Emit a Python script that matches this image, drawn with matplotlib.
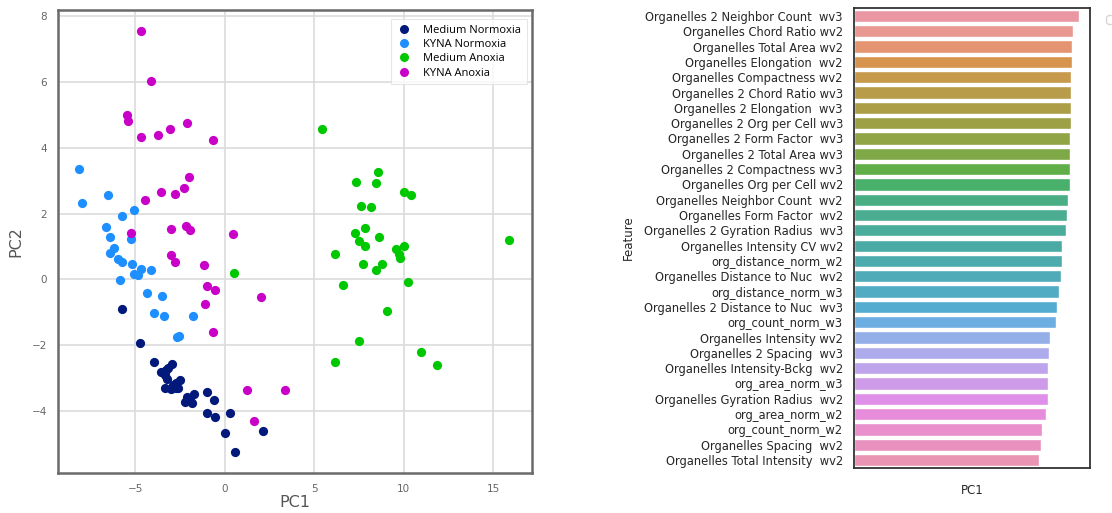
import numpy as np
import matplotlib
matplotlib.use("Agg")
import matplotlib.pyplot as plt
from matplotlib.lines import Line2D
import seaborn as sns

# ---- PCA scores (PC1, PC2) per condition ----
medium_normoxia_pc1 = [-5.74, -4.72, -3.92, -2.92, -3.14, -3.56, -3.27, -3.23, -2.49, -2.71,
                       -3.31, -3.00, -2.71, -2.11, -1.69, -2.19, -1.93, -0.99, -0.59, -0.96,
                       -0.51, 0.32, 0.05, 2.13, 0.59, -3.30, -2.90, -2.60, -1.80]
medium_normoxia_pc2 = [-0.89, -1.94, -2.51, -2.57, -2.71, -2.81, -2.76, -3.04, -3.06, -3.14,
                       -3.31, -3.34, -3.29, -3.59, -3.50, -3.74, -3.67, -3.43, -3.67, -4.05,
                       -4.19, -4.05, -4.68, -4.60, -5.26, -2.90, -3.20, -3.30, -3.75]

kyna_normoxia_pc1 = [-8.13, -7.94, -6.53, -5.04, -5.73, -6.64, -6.40, -5.22, -6.16, -6.38,
                     -5.93, -5.71, -5.18, -4.66, -4.12, -5.07, -4.85, -5.85, -4.31, -3.49,
                     -3.96, -3.40, -1.76, -2.67, -2.52]
kyna_normoxia_pc2 = [3.37, 2.31, 2.56, 2.11, 1.92, 1.60, 1.28, 1.22, 0.94, 0.79,
                     0.61, 0.53, 0.46, 0.32, 0.27, 0.16, 0.12, -0.02, -0.42, -0.51,
                     -1.03, -1.12, -1.12, -1.76, -1.73]

medium_anoxia_pc1 = [5.46, 8.56, 7.36, 8.48, 10.03, 10.40, 7.64, 8.18, 7.85, 7.29,
                     8.61, 7.50, 7.85, 10.04, 9.60, 9.73, 9.80, 6.16, 7.72, 8.78,
                     8.48, 6.64, 10.23, 15.91, 9.08, 7.53, 6.17, 10.98, 11.85, 0.55]
medium_anoxia_pc2 = [4.57, 3.25, 2.96, 2.92, 2.67, 2.55, 2.23, 2.20, 1.57, 1.40,
                     1.28, 1.17, 1.01, 1.02, 0.92, 0.77, 0.66, 0.78, 0.47, 0.47,
                     0.29, -0.17, -0.08, 1.19, -0.96, -1.87, -2.50, -2.22, -2.61, 0.20]

kyna_anoxia_pc1 = [-4.66, -4.09, -5.46, -5.39, -4.66, -3.72, -3.06, -2.11, -0.64, -2.00,
                   -2.26, -3.55, -2.78, -4.44, -5.22, -3.00, -2.17, -1.93, 0.49, -2.97,
                   -2.78, -1.13, -0.96, -0.51, -1.11, -0.64, 2.04, 1.24, 3.38, 1.66]
kyna_anoxia_pc2 = [7.54, 6.02, 4.99, 4.80, 4.32, 4.38, 4.57, 4.76, 4.24, 3.12,
                   2.78, 2.66, 2.60, 2.40, 1.40, 1.54, 1.62, 1.50, 1.37, 0.73,
                   0.53, 0.43, -0.21, -0.33, -0.76, -1.60, -0.55, -3.36, -3.36, -4.30]

group_names = ["Medium Normoxia", "KYNA Normoxia", "Medium Anoxia", "KYNA Anoxia"]
group_colors = ["#00197a", "#1e8fff", "#00c800", "#c800c8"]

# ---- PC1 loadings per feature ----
features = [
    "Organelles 2 Neighbor Count  wv3",
    "Organelles Chord Ratio wv2",
    "Organelles Total Area wv2",
    "Organelles Elongation  wv2",
    "Organelles Compactness wv2",
    "Organelles 2 Chord Ratio wv3",
    "Organelles 2 Elongation  wv3",
    "Organelles 2 Org per Cell wv3",
    "Organelles 2 Form Factor  wv3",
    "Organelles 2 Total Area wv3",
    "Organelles 2 Compactness wv3",
    "Organelles Org per Cell wv2",
    "Organelles Neighbor Count  wv2",
    "Organelles Form Factor  wv2",
    "Organelles 2 Gyration Radius  wv3",
    "Organelles Intensity CV wv2",
    "org_distance_norm_w2",
    "Organelles Distance to Nuc  wv2",
    "org_distance_norm_w3",
    "Organelles 2 Distance to Nuc  wv3",
    "org_count_norm_w3",
    "Organelles Intensity wv2",
    "Organelles 2 Spacing  wv3",
    "Organelles Intensity-Bckg  wv2",
    "org_area_norm_w3",
    "Organelles Gyration Radius  wv2",
    "org_area_norm_w2",
    "org_count_norm_w2",
    "Organelles Spacing  wv2",
    "Organelles Total Intensity  wv2",
]
pc1_loadings = [0.2250, 0.2193, 0.2183, 0.2183, 0.2173, 0.2173, 0.2173, 0.2173, 0.2160, 0.2160,
                0.2160, 0.2160, 0.2140, 0.2130, 0.2120, 0.2087, 0.2087, 0.2077, 0.2057, 0.2033,
                0.2023, 0.1960, 0.1950, 0.1940, 0.1940, 0.1940, 0.1927, 0.1887, 0.1877, 0.1853]

fig = plt.figure(figsize=(11.12, 5.13), dpi=100)

# ---------------- scatter of PC scores ----------------
ax1 = fig.add_axes([0.0524, 0.0785, 0.4258, 0.902])
xs = [medium_normoxia_pc1, kyna_normoxia_pc1, medium_anoxia_pc1, kyna_anoxia_pc1]
ys = [medium_normoxia_pc2, kyna_normoxia_pc2, medium_anoxia_pc2, kyna_anoxia_pc2]
for x, y, c, name in zip(xs, ys, group_colors, group_names):
    ax1.scatter(x, y, s=44, color=c, linewidths=0, label=name, zorder=3)

ax1.set_xlim(-9.29, 17.16)
ax1.set_ylim(-5.88, 8.19)
ax1.set_xticks([-5, 0, 5, 10, 15])
ax1.set_yticks([-4, -2, 0, 2, 4, 6, 8])
ax1.grid(True, color="#dcdcdc", linewidth=1.2, zorder=0)
ax1.set_axisbelow(True)
ax1.tick_params(length=0, labelsize=7.5, labelcolor="#666666", pad=8)
for sp in ax1.spines.values():
    sp.set_color("#6a6a6a")
    sp.set_linewidth(1.8)
ax1.set_xlabel("PC1", fontsize=11.5, color="#555555", labelpad=1)
ax1.set_ylabel("PC2", fontsize=11.5, color="#555555", labelpad=6)

handles = [Line2D([], [], marker="o", linestyle="", markersize=6.5,
                  markerfacecolor=c, markeredgewidth=0) for c in group_colors]
leg = ax1.legend(handles, group_names, loc="upper right", bbox_to_anchor=(0.994, 0.985),
                 prop={"family": "Open Sans", "size": 8}, frameon=True, fancybox=False,
                 borderpad=0.5, labelspacing=0.3, handletextpad=1.0, handlelength=1.4,
                 borderaxespad=0.2)
leg.get_frame().set_edgecolor("#e0e0e0")
leg.get_frame().set_linewidth(0.8)

# ---------------- PC1 loadings bar chart ----------------
ax2 = fig.add_axes([0.768, 0.0883, 0.2122, 0.8955])
n = len(features)
pal = sns.husl_palette(n, l=0.7)
pal = [sns.desaturate(c, 0.75) for c in pal]
ypos = np.arange(n)
ax2.barh(ypos, pc1_loadings, height=0.8, color=pal, edgecolor="white", linewidth=1.0)
ax2.set_ylim(n - 0.5, -0.5)
ax2.set_xlim(0, max(pc1_loadings) * 1.05)
ax2.set_yticks(ypos)
ax2.set_yticklabels(features, fontsize=8.3, color="#262626")
ax2.set_xticks([])
ax2.tick_params(axis="y", length=0, pad=8)
for sp in ax2.spines.values():
    sp.set_color("#333333")
    sp.set_linewidth(1.3)
ax2.set_xlabel("PC1", fontsize=8.5, color="#262626", labelpad=12)
ax2.set_ylabel("Feature", fontsize=8.5, color="#262626", labelpad=6)

empty = ax2.legend(handles=[], loc="upper left", bbox_to_anchor=(1.04, 1.0), frameon=True,
                   borderpad=0.3)
empty.get_frame().set_edgecolor("#cccccc")

fig.savefig("out.png", dpi=100)
